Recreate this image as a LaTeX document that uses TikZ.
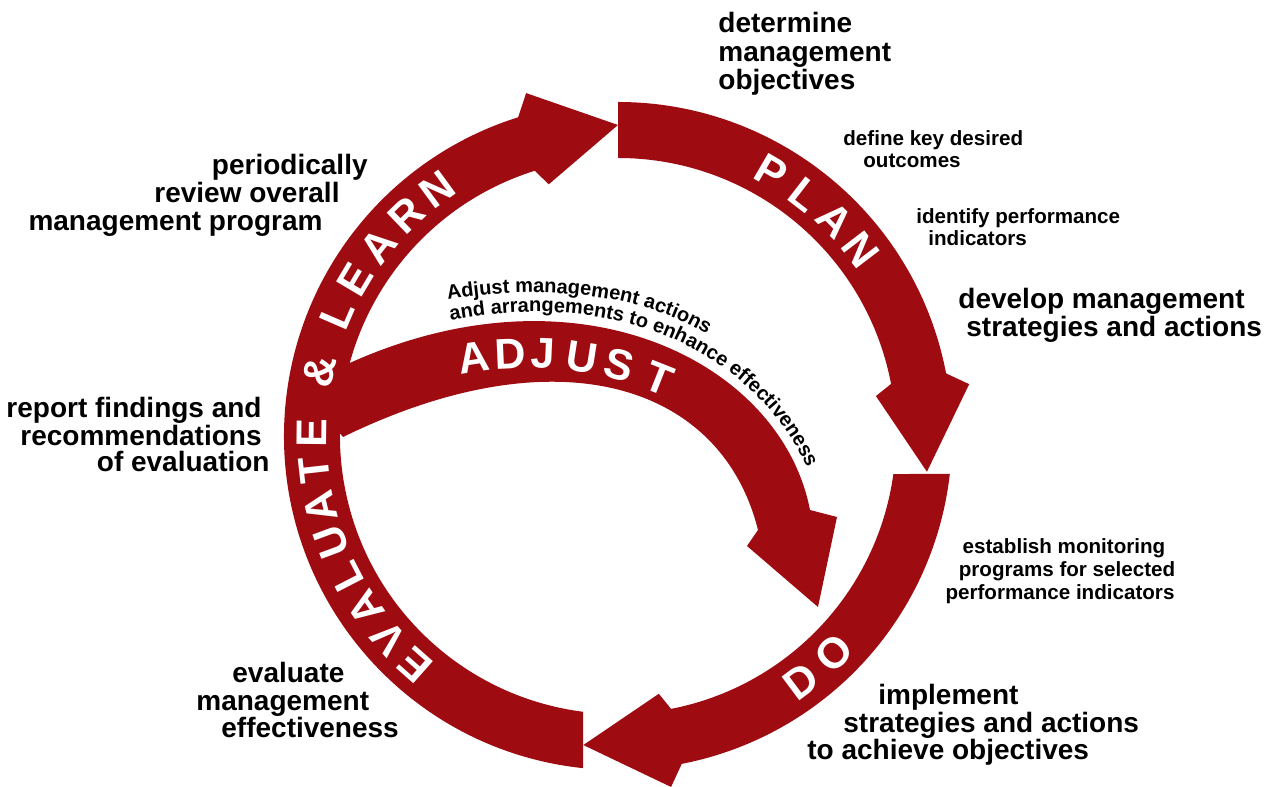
\documentclass[tikz,border=0pt]{standalone}
\usepackage{fontspec}
\setmainfont{Liberation Sans}
\usetikzlibrary{decorations.text}
\definecolor{cycred}{RGB}{158,11,17}
% ring arrow: #1 tail outer angle, #2 tail inner angle, #3 notch angle
\newcommand\ringarrow[3]{%
  \fill[cycred] ([shift={(618,351)}]#1:334) arc[start angle=#1, end angle=#3, radius=334]
    -- ([shift={(618,351)}]#3-2.4:355) -- ([shift={(618,351)}]#3-17.4:311)
    -- ([shift={(618,351)}]#3-2.0:261) -- ([shift={(618,351)}]#3:278)
    arc[start angle=#3, end angle=#2, radius=278] -- cycle;}
\tikzset{
  lbl/.style={font=\fontsize{14}{15}\selectfont\bfseries, inner sep=0pt},
  slbl/.style={font=\fontsize{10.3}{11}\selectfont\bfseries, inner sep=0pt},
  band/.style={font=\fontsize{21.5}{21.5}\selectfont\bfseries, text=white, inner sep=0pt, anchor=base},
}
\begin{document}
\begin{tikzpicture}[x=0.5pt,y=0.5pt]
\useasboundingbox (0,0) rectangle (1270,787);
\coordinate (C) at (618,351);
% ring arrows
\ringarrow{90}{90}{10.8}      % PLAN
\ringarrow{-6.53}{-7.86}{-79} % DO
\ringarrow{264}{262.8}{107.4} % EVALUATE & LEARN
% ADJUST arrow
\fill[cycred] (352,425) .. controls (580.4,526.7) and (781.4,424.2) .. (810,277)
  -- (837,270) -- (818,180) -- (747,241) -- (758,257)
  .. controls (721.7,402.5) and (558.7,455.2) .. (343,350) -- (300,400) -- cycle;
% band letters
\foreach \ch/\ang [count=\i] in {P/59.8, L/52.2, A/44.9, N/37.4}
  \node[band, rotate=\ang-90] (pl\i) at ([shift={(618,351)}]\ang:291) {\ch};
\foreach \ch/\ang [count=\i] in {D/-53.2, O/-45.1}
  \node[band, rotate=\ang+90] (do\i) at ([shift={(618,351)}]\ang:321) {\ch};
\foreach \ch/\ang [count=\i] in {E/228.5, V/221.4, A/214.3, L/207.3, U/200.3, A/193.4, T/186.4, E/179.4, \&/167.8, L/156.6, E/149.2, A/141.6, R/133.8, N/126.2}
  \node[band, rotate=\ang-90] (ev\i) at ([shift={(618,351)}]\ang:291) {\ch};
\foreach \ch/\ang [count=\i] in {A/98.6, D/92.6, J/87.5, U/81.2, S/75.0, T/68.4}
  \node[band, rotate=\ang-90] (ad\i) at ([shift={(527,76)}]\ang:343) {\ch};
% curved description
\path[decorate, decoration={text along path, text align={left indent=57pt},
  text={|\fontsize{10}{12}\selectfont\bfseries|Adjust management actions}}]
  (338.99,454.23) .. controls (453.19,505.08) and (584.21,503.69) .. (666.59,472.38)
  .. controls (748.96,441.07) and (825.15,356.32) .. (839.45,282.72) -- ++(7.6,-39.3);
\path[decorate, decoration={text along path, text align={left indent=54pt},
  text={|\fontsize{10}{12}\selectfont\bfseries|and arrangements to enhance effectiveness}}]
  (347.93,434.14) .. controls (462.13,484.99) and (577.1,485.0) .. (659.48,453.69)
  .. controls (741.85,422.38) and (805.52,352.51) .. (819.82,278.91) -- ++(7.6,-39.3);
% labels
\node[lbl, anchor=base west] (d1) at (718,754) {determine};
\node[lbl, anchor=base west] (d2) at (718,725) {management};
\node[lbl, anchor=base west] (d3) at (718,697) {objectives};
\node[slbl, anchor=base west] (k1) at (843,641) {define key desired};
\node[slbl, anchor=base west] (k2) at (863,619) {outcomes};
\node[slbl, anchor=base west] (i1) at (916,563) {identify performance};
\node[slbl, anchor=base west] (i2) at (928,541) {indicators};
\node[lbl, anchor=base west] (s1) at (958,478) {develop management};
\node[lbl, anchor=base west] (s2) at (966,450) {strategies and actions};
\node[slbl, anchor=base] (m1) at (1064,233) {establish monitoring};
\node[slbl, anchor=base] (m2) at (1067,210) {programs for selected};
\node[slbl, anchor=base] (m3) at (1060,187) {performance indicators};
\node[lbl, anchor=base west] (im1) at (878,82) {implement};
\node[lbl, anchor=base west] (im2) at (843,54) {strategies and actions};
\node[lbl, anchor=base west] (im3) at (807,27) {to achieve objectives};
\node[lbl, anchor=base west] (e1) at (232,104) {evaluate};
\node[lbl, anchor=base west] (e2) at (196,76) {management};
\node[lbl, anchor=base west] (e3) at (221,49) {effectiveness};
\node[lbl, anchor=base east] (r1) at (262,369) {report findings and};
\node[lbl, anchor=base east] (r2) at (262,341) {recommendations};
\node[lbl, anchor=base east] (r3) at (270,315) {of evaluation};
\node[lbl, anchor=base east] (p1) at (368,612) {periodically};
\node[lbl, anchor=base east] (p2) at (340,584) {review overall};
\node[lbl, anchor=base east] (p3) at (323,556) {management program};
\end{tikzpicture}
\end{document}
